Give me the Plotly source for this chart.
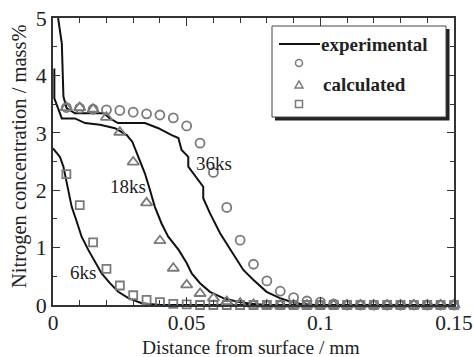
import plotly.graph_objects as go

W, H = 474, 357
L, R, T, B = 53, 20, 18, 52
PW, PH = W - L - R, H - T - B

# ---------------- data ----------------
exp_6ks_x = [0.0, 0.0026, 0.0039, 0.0051, 0.0070, 0.0089, 0.0107, 0.0132, 0.0157, 0.0182,
             0.0213, 0.0244, 0.0282, 0.0332, 0.040, 0.15]
exp_6ks_y = [2.73, 2.58, 2.41, 2.12, 1.71, 1.45, 1.19, 0.96, 0.75, 0.55,
             0.38, 0.23, 0.12, 0.03, 0.0, 0.0]

exp_18ks_x = [0.0005, 0.0005, 0.0033, 0.0082, 0.012, 0.0176, 0.0232, 0.0276, 0.0297, 0.0313,
              0.0344, 0.0363, 0.0381, 0.0406, 0.0431, 0.047, 0.050, 0.0519, 0.055, 0.0587,
              0.0637, 0.0687, 0.074, 0.080, 0.15]
exp_18ks_y = [4.12, 3.60, 3.25, 3.25, 3.17, 3.14, 3.08, 2.96, 2.84, 2.64,
              2.29, 2.00, 1.71, 1.42, 1.19, 0.96, 0.73, 0.55, 0.38, 0.23,
              0.12, 0.06, 0.02, 0.0, 0.0]

exp_36ks_x = [0.0019, 0.0033, 0.0039, 0.0051, 0.0082, 0.019, 0.0213, 0.0243, 0.0344, 0.0394,
              0.0444, 0.0469, 0.0481, 0.0506, 0.0506, 0.0562, 0.0562, 0.0587, 0.0625, 0.0674,
              0.0712, 0.0749, 0.0799, 0.0849, 0.0886, 0.0924, 0.098, 0.15]
exp_36ks_y = [5.0, 4.56, 3.63, 3.43, 3.34, 3.34, 3.25, 3.17, 3.17, 3.08,
              2.96, 2.91, 2.70, 2.58, 2.41, 2.06, 1.86, 1.60, 1.25, 0.90,
              0.61, 0.44, 0.23, 0.12, 0.06, 0.02, 0.0, 0.0]

calc_x = [0.005, 0.010, 0.015, 0.020, 0.025, 0.030, 0.035, 0.040, 0.045, 0.050,
          0.055, 0.060, 0.065, 0.070, 0.075, 0.080, 0.085, 0.090, 0.095, 0.100,
          0.105, 0.110, 0.115, 0.120, 0.125, 0.130, 0.135, 0.140, 0.145, 0.150]
calc_36ks = [3.44, 3.43, 3.41, 3.40, 3.39, 3.36, 3.33, 3.31, 3.26, 3.12,
             2.82, 2.31, 1.70, 1.13, 0.71, 0.42, 0.24, 0.13, 0.07, 0.05,
             0.02, 0.0, 0.0, 0.0, 0.0, 0.0, 0.0, 0.0, 0.0, 0.0]
calc_18ks = [3.44, 3.44, 3.41, 3.27, 3.01, 2.49, 1.78, 1.12, 0.64, 0.35,
             0.20, 0.12, 0.06, 0.03, 0.01, 0.0, 0.0, 0.0, 0.0, 0.0,
             0.0, 0.0, 0.0, 0.0, 0.0, 0.0, 0.0, 0.0, 0.0, 0.0]
calc_6ks = [2.28, 1.74, 1.09, 0.63, 0.34, 0.17, 0.09, 0.05, 0.02, 0.01,
            0.0, 0.0, 0.0, 0.0, 0.0, 0.0, 0.0, 0.0, 0.0, 0.0,
            0.0, 0.0, 0.0, 0.0, 0.0, 0.0, 0.0, 0.0, 0.0, 0.0]

labels = ["6ks", "18ks", "36ks"]
label_x = [0.0113, 0.0282, 0.0603]
label_y = [0.56, 2.06, 2.46]

x_tickvals = [0, 0.05, 0.1, 0.15]
x_ticktext = ["0", "0.05", "0.1", "0.15"]
y_tickvals = [0, 1, 2, 3, 4, 5]
y_ticktext = ["0", "1", "2", "3", "4", "5"]

# ---------------- styles ----------------
SERIF = "Liberation Serif"
LINE_C = "#111111"
MARK_C = "#7a7a7a"
AXIS_C = "#333333"
TXT_C = "#222222"

fig = go.Figure()
for xs, ys in [(exp_6ks_x, exp_6ks_y), (exp_18ks_x, exp_18ks_y), (exp_36ks_x, exp_36ks_y)]:
    fig.add_trace(go.Scatter(x=xs, y=ys, mode="lines",
                             line=dict(color=LINE_C, width=2), showlegend=False))

for ys, sym, size in [(calc_36ks, "circle-open", 9), (calc_18ks, "triangle-up-open", 10),
                      (calc_6ks, "square-open", 8)]:
    fig.add_trace(go.Scatter(x=calc_x, y=ys, mode="markers", cliponaxis=False,
                             marker=dict(symbol=sym, size=size, color=MARK_C,
                                         line=dict(color=MARK_C, width=1.8)),
                             showlegend=False))

annotations = []
for t, ax_, ay_ in zip(labels, label_x, label_y):
    annotations.append(dict(x=ax_, y=ay_, xref="x", yref="y", text=t, showarrow=False,
                            font=dict(family=SERIF, size=19, color=TXT_C)))


def px(x):
    return (x - L) / PW


def py(y):
    return (H - B - y) / PH


# axis titles
annotations.append(dict(x=px(251), y=py(347), xref="paper", yref="paper", xanchor="center",
                        yanchor="middle", text="Distance from surface / mm", showarrow=False,
                        font=dict(family=SERIF, size=19.5, color=TXT_C)))
annotations.append(dict(x=px(19), y=py(156), xref="paper", yref="paper", xanchor="center",
                        yanchor="middle", text="Nitrogen concentration / mass%", showarrow=False,
                        textangle=-90, font=dict(family=SERIF, size=20.5, color=TXT_C)))

shapes = []
# legend shadow and box
shapes.append(dict(type="rect", xref="paper", yref="paper", x0=px(275), x1=px(449.5),
                   y0=py(120.5), y1=py(29), fillcolor="#222", line=dict(width=0), layer="above"))
shapes.append(dict(type="rect", xref="paper", yref="paper", x0=px(272), x1=px(446),
                   y0=py(117), y1=py(26), fillcolor="white", line=dict(color="#444", width=1),
                   layer="above"))
shapes.append(dict(type="line", xref="paper", yref="paper", x0=px(279), x1=px(320),
                   y0=py(44), y1=py(44), line=dict(color=LINE_C, width=2), layer="above"))
shapes.append(dict(type="circle", xref="paper", yref="paper", xsizemode="pixel", ysizemode="pixel",
                   xanchor=px(299), yanchor=py(63), x0=-3.5, x1=3.5, y0=-3.5, y1=3.5,
                   line=dict(color=MARK_C, width=1.5), layer="above"))
shapes.append(dict(type="path", xref="paper", yref="paper", xsizemode="pixel", ysizemode="pixel",
                   xanchor=px(299), yanchor=py(85), path="M-4,-3 L4,-3 L0,4 Z",
                   line=dict(color=MARK_C, width=1.5), layer="above"))
shapes.append(dict(type="rect", xref="paper", yref="paper", xsizemode="pixel", ysizemode="pixel",
                   xanchor=px(299), yanchor=py(104), x0=-3.5, x1=3.5, y0=-3.5, y1=3.5,
                   line=dict(color=MARK_C, width=1.5), layer="above"))

annotations.append(dict(x=px(319), y=py(44), xref="paper", yref="paper", xanchor="left",
                        yanchor="middle", text="<b>experimental</b>", showarrow=False,
                        font=dict(family=SERIF, size=19, color=TXT_C)))
annotations.append(dict(x=px(320.5), y=py(85), xref="paper", yref="paper", xanchor="left",
                        yanchor="middle", text="<b>calculated</b>", showarrow=False,
                        font=dict(family=SERIF, size=19, color=TXT_C)))

fig.update_layout(
    width=W, height=H,
    margin=dict(l=L, r=R, t=T, b=B, pad=0),
    paper_bgcolor="white", plot_bgcolor="white",
    shapes=shapes, annotations=annotations,
    font=dict(family=SERIF, color=TXT_C),
    xaxis=dict(range=[0, 0.15], tickvals=x_tickvals, ticktext=x_ticktext, automargin=False,
               ticklabeloverflow="allow", ticklabelstandoff=-3,
               ticks="inside", ticklen=8, tickwidth=1.2, tickcolor=AXIS_C,
               minor=dict(dtick=0.01, ticks="inside", ticklen=5, tickwidth=1.2, tickcolor=AXIS_C),
               showline=True, linecolor=AXIS_C, linewidth=1.5, mirror="ticks",
               showgrid=False, zeroline=False,
               tickfont=dict(family=SERIF, size=21.5, color=TXT_C)),
    yaxis=dict(range=[0, 5], tickvals=y_tickvals, ticktext=y_ticktext, automargin=False,
               ticklabeloverflow="allow",
               ticks="inside", ticklen=7, tickwidth=1.2, tickcolor=AXIS_C,
               minor=dict(dtick=0.5, ticks="inside", ticklen=4, tickwidth=1.2, tickcolor=AXIS_C),
               showline=True, linecolor=AXIS_C, linewidth=1.5, mirror="ticks",
               showgrid=False, zeroline=False,
               tickfont=dict(family=SERIF, size=22, color=TXT_C)),
)

fig.write_html("out.html")
